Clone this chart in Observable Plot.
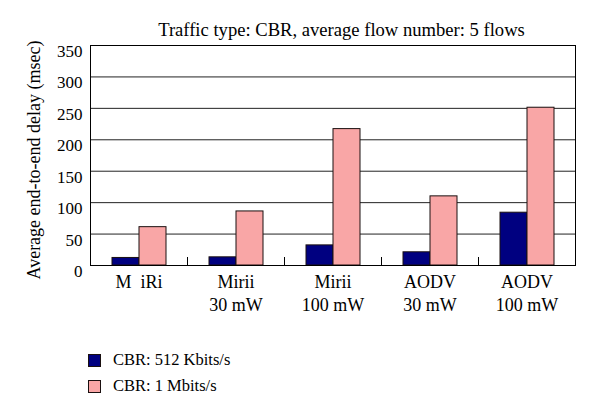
<!DOCTYPE html>
<html>
<head>
<meta charset="utf-8">
<script src="https://cdn.jsdelivr.net/npm/d3@7"></script>
<script src="https://cdn.jsdelivr.net/npm/@observablehq/plot@0.6"></script>
<style>
  html, body { margin: 0; padding: 0; background: #fff; }
  body { position: relative; width: 600px; height: 415px; overflow: hidden; font-family: "Liberation Serif", "DejaVu Serif", serif; color: #000; }
  #title { position: absolute; z-index: 2; left: 0; top: 20px; width: 683px; text-align: center; font-size: 18.6px; line-height: 20px; white-space: nowrap; }
  #ylabel { position: absolute; z-index: 2; left: 34px; top: 160px; width: 0; height: 0; }
  #ylabel span { position: absolute; left: 0; top: 0; transform: translate(-50%, -50%) rotate(-90deg); font-size: 18px; line-height: 20px; white-space: nowrap; }
  #chart { position: absolute; z-index: 1; left: 0; top: 36px; }
  #legend { position: absolute; left: 88px; top: 347px; font-size: 16.5px; }
  .row { height: 26px; line-height: 26px; display: flex; align-items: center; white-space: nowrap; }
  .sw { width: 11px; height: 11px; border: 1px solid #1a1010; margin-right: 12px; }
</style>
</head>
<body>
<div id="title"></div>
<div id="ylabel"><span></span></div>
<div id="chart"></div>
<div id="legend"></div>
<script>
const titleText = "Traffic type: CBR, average flow number: 5 flows";
const yLabel = "Average end-to-end delay (msec)";
const groups = ["M iRi", "Mirii 30 mW", "Mirii 100 mW", "AODV 30 mW", "AODV 100 mW"];
const groupLabels = ["M\u2002iRi", "Mirii\n30 mW", "Mirii\n100 mW", "AODV\n30 mW", "AODV\n100 mW"];
const series = ["CBR: 512 Kbits/s", "CBR: 1 Mbits/s"];
const delay512K = [12, 13, 32, 21, 84];
const delay1M = [61, 86, 217, 110, 251];
const yTicks = [0, 50, 100, 150, 200, 250, 300, 350];
const colors = ["#000080", "#f9a6a6"];

const rows = [];
groups.forEach((g, i) => {
  rows.push({group: g, series: series[0], value: delay512K[i]});
  rows.push({group: g, series: series[1], value: delay1M[i]});
});

document.getElementById("title").textContent = titleText;
document.querySelector("#ylabel span").textContent = yLabel;

const chart = Plot.plot({
  width: 600,
  height: 300,
  marginTop: 9,
  marginBottom: 71,
  marginLeft: 88,
  marginRight: 24,
  style: {fontFamily: "'Liberation Serif', 'DejaVu Serif', serif", fontSize: "17px", color: "#000", background: "transparent"},
  fx: {domain: groups, padding: 0, label: null},
  x: {domain: series, paddingInner: 0, paddingOuter: 0.74, axis: null},
  y: {domain: [0, 350], label: null},
  color: {domain: series, range: colors},
  marks: [
    Plot.gridY(yTicks, {stroke: "#222", strokeOpacity: 1}),
    Plot.barY(rows, {fx: "group", x: "series", y: "value", fill: "series", stroke: "#1a1010", strokeWidth: 1}),
    Plot.frame({anchor: "left", insetTop: 212, stroke: "#000"}),
    Plot.frame({facet: "super", stroke: "#000"}),
    Plot.axisY(yTicks, {tickSize: 0, tickPadding: 8, fontSize: 17, dy: 6, label: null}),
    Plot.axisFx({anchor: "bottom", tickSize: 0, tickPadding: 6, fontSize: 18, lineHeight: 1.28, label: null,
      tickFormat: g => groupLabels[groups.indexOf(g)]})
  ]
});
document.getElementById("chart").appendChild(chart);

const legend = document.getElementById("legend");
series.forEach((s, i) => {
  const row = document.createElement("div");
  row.className = "row";
  const sw = document.createElement("div");
  sw.className = "sw";
  sw.style.background = colors[i];
  const t = document.createElement("span");
  t.textContent = s;
  row.appendChild(sw);
  row.appendChild(t);
  legend.appendChild(row);
});
</script>
</body>
</html>
